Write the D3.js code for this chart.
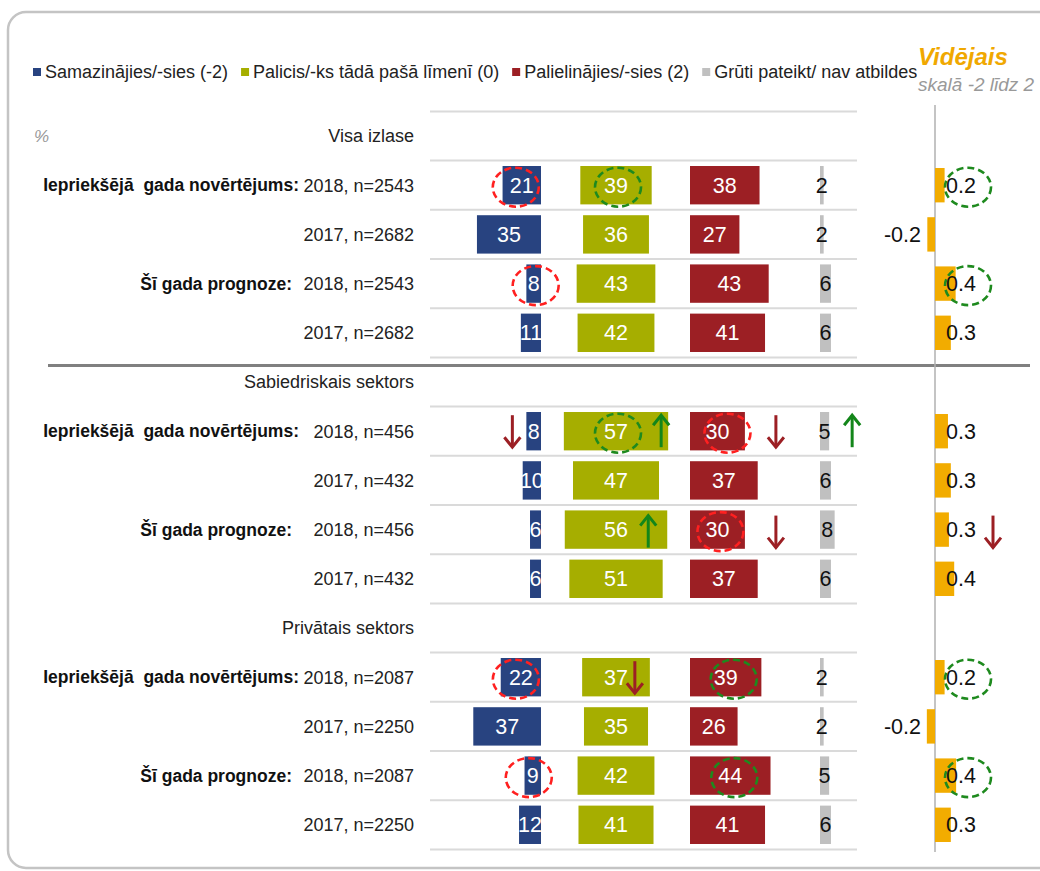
<!DOCTYPE html>
<html><head><meta charset="utf-8">
<script src="https://cdn.jsdelivr.net/npm/d3@7"></script>
<style>
html,body{margin:0;padding:0;background:#fff;}
svg{display:block;font-family:"Liberation Sans",Arial,sans-serif;}
text{white-space:pre;}
</style></head>
<body><svg id="c" width="1040" height="871"></svg>
<script>
// ---------- data ----------
const legendLabels = ["Samazinājies/-sies (-2)", "Palicis/-ks tādā pašā līmenī (0)", "Palielinājies/-sies (2)", "Grūti pateikt/ nav atbildes"];
const groups = ["Visa izlase", "Sabiedriskais sektors", "Privātais sektors"];
const rowTypes = ["Iepriekšējā  gada novērtējums:", "", "Šī gada prognoze:", ""];
const rowLabels = ["2018, n=2543","2017, n=2682","2018, n=2543","2017, n=2682",
                   "2018, n=456","2017, n=432","2018, n=456","2017, n=432",
                   "2018, n=2087","2017, n=2250","2018, n=2087","2017, n=2250"];
const decreased = [21,35,8,11, 8,10,6,6, 22,37,9,12];
const same      = [39,36,43,42, 57,47,56,51, 37,35,42,41];
const increased = [38,27,43,41, 30,37,30,37, 39,26,44,41];
const dontKnow  = [2,2,6,6, 5,6,8,6, 2,2,5,6];
const meanValues = [0.2,-0.16,0.43,0.33, 0.27,0.33,0.29,0.4, 0.2,-0.17,0.44,0.33];
const meanTitle = "Vidējais";
const meanSubtitle = "skalā -2 līdz 2";
// annotations: dashed circles (row, series, colour kind) and change arrows (row, series, direction)
const circles = [
  {row:0, s:"dec", k:"red"}, {row:0, s:"same", k:"green"}, {row:0, s:"mean", k:"green"},
  {row:2, s:"dec", k:"red"}, {row:2, s:"mean", k:"green"},
  {row:4, s:"same", k:"green"}, {row:4, s:"inc", k:"red"},
  {row:6, s:"inc", k:"red"},
  {row:8, s:"dec", k:"red"}, {row:8, s:"inc", k:"green"}, {row:8, s:"mean", k:"green"},
  {row:10, s:"dec", k:"red"}, {row:10, s:"inc", k:"green"}, {row:10, s:"mean", k:"green"}
];
const arrows = [
  {row:4, s:"dec", dir:"down"}, {row:4, s:"same", dir:"up"}, {row:4, s:"inc", dir:"down"}, {row:4, s:"dk", dir:"up"},
  {row:6, s:"same", dir:"up"}, {row:6, s:"inc", dir:"down"}, {row:6, s:"mean", dir:"down"},
  {row:8, s:"same", dir:"down"}
];

// ---------- layout ----------
const svg = d3.select("#c");
const C = {dec:"#284380", same:"#a6ae00", inc:"#9c1f24", dk:"#c0c0c0", mean:"#f2ac00"};
const circleCol = {red:"#ff2020", green:"#1e8a1e"};
const arrowCol = {up:"#13861a", down:"#9c1f24"};

// frame
svg.append("rect").attr("x",8).attr("y",12).attr("width",1200).attr("height",856)
  .attr("rx",18).attr("fill","none").attr("stroke","#c4c4c4").attr("stroke-width",2.5);

const slotOf = r => Math.floor(r/4)*5 + 1 + (r%4);
const y = d3.scaleBand().domain(d3.range(15)).range([111.4, 849.4]);
const barH = y.bandwidth()*0.78;
const yc = r => y(slotOf(r)) + y.bandwidth()/2;

const pct = d3.scaleLinear().domain([0,100]).range([0,183]);
const decRight = 541, sameCenter = 616, incLeft = 690, dkLeft = 820;
const xMean = d3.scaleLinear().domain([-1,1]).range([935-48, 935+48]);

// gridlines
svg.append("g").selectAll("line").data(d3.range(16)).join("line")
  .attr("x1",430).attr("x2",857)
  .attr("y1",i=>y.range()[0]+i*y.step()).attr("y2",i=>y.range()[0]+i*y.step())
  .attr("stroke","#dadada").attr("stroke-width",2);
// thick separator
svg.append("line").attr("x1",48).attr("x2",1030)
  .attr("y1",y(5)+8).attr("y2",y(5)+8).attr("stroke","#808080").attr("stroke-width",3);
// mean axis
svg.append("line").attr("x1",xMean(0)).attr("x2",xMean(0)).attr("y1",105).attr("y2",852)
  .attr("stroke","#b0b0b0").attr("stroke-width",1.5);

// legend
const lg = svg.append("g");
let lx = 33;
const keys = ["dec","same","inc","dk"];
legendLabels.forEach((t,i)=>{
  lg.append("rect").attr("x",lx).attr("y",68).attr("width",8).attr("height",8).attr("fill",C[keys[i]]);
  const tx = lg.append("text").attr("x",lx+12).attr("y",72).attr("dy","0.35em")
    .attr("font-size",18).attr("fill","#222").text(t);
  lx += 12 + tx.node().getComputedTextLength() + 13;
});
svg.append("text").attr("x",918).attr("y",65).attr("font-size",24).attr("font-weight","bold")
  .attr("font-style","italic").attr("fill","#f0a800").text(meanTitle);
svg.append("text").attr("x",918).attr("y",91).attr("font-size",19)
  .attr("font-style","italic").attr("fill","#999").text(meanSubtitle);
svg.append("text").attr("x",34).attr("y",y(0)+y.bandwidth()/2).attr("dy","0.35em")
  .attr("font-size",17).attr("font-style","italic").attr("fill","#999").text("%");

// group headers
svg.append("g").selectAll("text").data(groups).join("text")
  .attr("x",414).attr("y",(d,i)=>y(i*5)+y.bandwidth()/2).attr("dy","0.35em")
  .attr("text-anchor","end").attr("font-size",18).attr("fill","#222").text(d=>d);

// row labels
const rows = d3.range(12);
svg.append("g").selectAll("text").data(rows).join("text")
  .attr("x",414).attr("y",r=>yc(r)).attr("dy","0.35em").attr("text-anchor","end")
  .attr("font-size",18).attr("fill","#222").text(r=>rowLabels[r]);
svg.append("g").selectAll("text").data(rows.filter(r=>rowTypes[r%4])).join("text")
  .attr("x",r=>r%4===0?299:292).attr("y",r=>yc(r)).attr("dy","0.35em").attr("text-anchor","end")
  .attr("font-size",17.5).attr("font-weight","bold").attr("fill","#111").text(r=>rowTypes[r%4]);

// bars
const ext = {
  dec: r => [decRight - pct(decreased[r]), decRight],
  same: r => [sameCenter - pct(same[r])/2, sameCenter + pct(same[r])/2],
  inc: r => [incLeft, incLeft + pct(increased[r])],
  dk: r => [dkLeft, dkLeft + pct(dontKnow[r])],
  mean: r => [Math.min(xMean(0), xMean(meanValues[r])), Math.max(xMean(0), xMean(meanValues[r]))]
};
const vals = {dec:decreased, same:same, inc:increased, dk:dontKnow};
keys.forEach(k=>{
  const g = svg.append("g");
  g.selectAll("rect").data(rows).join("rect")
    .attr("x",r=>ext[k](r)[0]).attr("width",r=>ext[k](r)[1]-ext[k](r)[0])
    .attr("y",r=>yc(r)-barH/2).attr("height",barH).attr("fill",C[k]);
  g.selectAll("text").data(rows).join("text")
    .attr("x",r=>(ext[k](r)[0]+ext[k](r)[1])/2).attr("y",r=>yc(r)).attr("dy","0.35em")
    .attr("text-anchor","middle").attr("font-size",21.5)
    .attr("fill",k==="dk"?"#111":"#fff").text(r=>vals[k][r]);
});
// mean bars
const mg = svg.append("g");
mg.selectAll("rect").data(rows).join("rect")
  .attr("x",r=>ext.mean(r)[0]).attr("width",r=>ext.mean(r)[1]-ext.mean(r)[0])
  .attr("y",r=>yc(r)-barH/2+2).attr("height",barH-4).attr("fill",C.mean);
const fmt = d3.format(".1f");
mg.selectAll("text").data(rows).join("text")
  .attr("x",r=>meanValues[r]<0 ? xMean(0)-14 : xMean(0)+11)
  .attr("text-anchor",r=>meanValues[r]<0?"end":"start")
  .attr("y",r=>yc(r)).attr("dy","0.35em").attr("font-size",21.5).attr("fill","#111")
  .text(r=>fmt(meanValues[r]).replace("−","-"));

// annotation anchors
const labelX = (s,r) => s==="mean" ? xMean(0)+33 : (ext[s](r)[0]+ext[s](r)[1])/2;
const circleDx = {"0dec":-6,"0same":2,"2dec":2,"4same":2,"4inc":10,"6inc":3,"8dec":-5,"8inc":8,"10dec":-4,"10inc":4};
svg.append("g").selectAll("ellipse").data(circles).join("ellipse")
  .attr("cx",d=>labelX(d.s,d.row)+(circleDx[d.row+d.s]||0)).attr("cy",d=>yc(d.row)+2)
  .attr("rx",23).attr("ry",19.5).attr("fill","none")
  .attr("stroke",d=>circleCol[d.k]).attr("stroke-width",2.6).attr("stroke-dasharray","7,4");

const arrowX = d => {
  if (d.s==="mean") return xMean(0)+58;
  if (d.s==="dec") return ext.dec(d.row)[0]-14;
  const end = ext[d.s](d.row)[1];
  const off = {"4same":-7,"4inc":31,"4dk":23,"6same":-19,"6inc":31,"8same":-15}[d.row+d.s];
  return end + off;
};
const ag = svg.append("g");
arrows.forEach(d=>{
  const x = arrowX(d), c = yc(d.row)+ (d.row===6?2:0), col = arrowCol[d.dir];
  const tip = d.dir==="up" ? c-16 : c+16, back = d.dir==="up" ? 10 : -10;
  ag.append("line").attr("x1",x).attr("x2",x).attr("y1",c-16).attr("y2",c+16)
    .attr("stroke",col).attr("stroke-width",3);
  ag.append("polyline").attr("points",`${x-8},${tip+back} ${x},${tip} ${x+8},${tip+back}`)
    .attr("fill","none").attr("stroke",col).attr("stroke-width",3);
});
</script></body></html>
